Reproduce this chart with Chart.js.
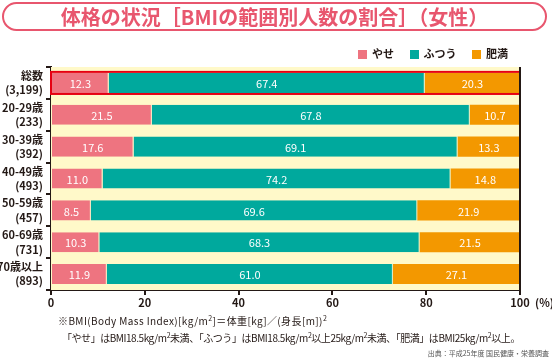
<!DOCTYPE html>
<html lang="ja">
<head>
<meta charset="utf-8">
<script src="https://cdn.jsdelivr.net/npm/chart.js@4"></script>
<style>
  body { margin: 0; background: #fff; }
  #wrap { position: relative; width: 552px; height: 360px; font-family: "Noto Sans CJK JP", "Noto Sans", sans-serif; color: #231815; }
  #chart { position: absolute; left: 0; top: 0; }
  .title {
    position: absolute; left: 2px; top: 2px; width: 545px; height: 29px;
    border: 2px solid #e8566e; border-radius: 16px; box-sizing: border-box;
    color: #e8566e; font-weight: bold; font-size: 20px; line-height: 26px; text-align: center;
  }
  .legend { position: absolute; top: 45px; left: 358px; font-size: 11px; font-weight: bold; white-space: nowrap; }
  .legend span.box { display: inline-block; width: 9px; height: 9px; vertical-align: -1px; margin-right: 5px; }
  .legend span.item { margin-right: 13px; }
  .note { position: absolute; font-size: 10px; white-space: nowrap; }
  .note sup { font-size: 7px; }
  .src { position: absolute; right: 3px; top: 348px; font-size: 7px; color: #555; }
  .pct { position: absolute; left: 535px; top: 294px; font-size: 11px; font-weight: bold; }
</style>
</head>
<body>
<div id="wrap">
  <canvas id="chart" width="552" height="360"></canvas>
  <div class="title">体格の状況［BMIの範囲別人数の割合］（女性）</div>
  <div class="legend">
    <span class="item"><span class="box" style="background:#ee7480"></span>やせ</span>
    <span class="item"><span class="box" style="background:#00a99d"></span>ふつう</span>
    <span><span class="box" style="background:#f39800"></span>肥満</span>
  </div>
  <div class="pct">(%)</div>
  <div class="note" style="left:58px; top:313px; letter-spacing:0.4px;">※BMI(Body Mass Index)[kg/m<sup>2</sup>]＝体重[kg]／(身長[m])<sup>2</sup></div>
  <div class="note" style="left:62px; top:330px; letter-spacing:-0.45px;">「やせ」はBMI18.5kg/m<sup>2</sup>未満、「ふつう」はBMI18.5kg/m<sup>2</sup>以上25kg/m<sup>2</sup>未満、「肥満」はBMI25kg/m<sup>2</sup>以上。</div>
  <div class="src">出典：平成25年度 国民健康・栄養調査</div>
</div>
<script>
const categories = [
  ["総数", "(3,199)"],
  ["20-29歳", "(233)"],
  ["30-39歳", "(392)"],
  ["40-49歳", "(493)"],
  ["50-59歳", "(457)"],
  ["60-69歳", "(731)"],
  ["70歳以上", "(893)"],
];
const yase = [12.3, 21.5, 17.6, 11.0, 8.5, 10.3, 11.9];
const futsuu = [67.4, 67.8, 69.1, 74.2, 69.6, 68.3, 61.0];
const himan = [20.3, 10.7, 13.3, 14.8, 21.9, 21.5, 27.1];
const xTicks = [0, 20, 40, 60, 80, 100];

const dark = "#231815";

// background + value labels + red frame round the total row + right border
const framePlugin = {
  id: "frame",
  beforeDatasetsDraw(chart) {
    const { ctx, chartArea: a } = chart;
    ctx.save();
    ctx.fillStyle = "#fff9c9";
    ctx.fillRect(a.left, a.top, a.right - a.left, a.bottom - a.top);
    ctx.restore();
  },
  afterDatasetsDraw(chart) {
    const { ctx, chartArea: a } = chart;
    ctx.save();
    ctx.fillStyle = "#fff";
    ctx.font = "11px 'Noto Sans CJK JP', sans-serif";
    ctx.textAlign = "center";
    ctx.textBaseline = "middle";
    chart.data.datasets.forEach((ds, i) => {
      chart.getDatasetMeta(i).data.forEach((el, j) => {
        const p = el.getCenterPoint();
        ctx.fillText(ds.data[j].toFixed(1), p.x, p.y + 1);
      });
    });
    const bar = chart.getDatasetMeta(0).data[0];
    const h = bar.height;
    ctx.strokeStyle = "#e60012";
    ctx.lineWidth = 2;
    ctx.strokeRect(a.left, bar.y - h / 2 - 1, a.right - a.left, h + 2);
    ctx.strokeStyle = dark;
    ctx.beginPath();
    ctx.moveTo(a.right, a.top);
    ctx.lineTo(a.right, a.bottom);
    ctx.stroke();
    ctx.restore();
  },
};

const segBorder = { top: 0, bottom: 0, left: 0, right: 1 };

new Chart(document.getElementById("chart"), {
  type: "bar",
  data: {
    labels: categories,
    datasets: [
      { label: "やせ", data: yase, backgroundColor: "#ee7480", borderColor: "#f3dcc0", borderWidth: segBorder, borderSkipped: false },
      { label: "ふつう", data: futsuu, backgroundColor: "#00a99d", borderColor: "#cfe9c8", borderWidth: segBorder, borderSkipped: false },
      { label: "肥満", data: himan, backgroundColor: "#f39800", borderWidth: 0 },
    ],
  },
  options: {
    indexAxis: "y",
    responsive: false,
    animation: false,
    events: [],
    layout: { padding: { left: 0, top: 67, right: 32, bottom: 50 } },
    datasets: { bar: { barPercentage: 0.63, categoryPercentage: 1 } },
    plugins: { legend: { display: false }, tooltip: { enabled: false } },
    scales: {
      x: {
        stacked: true,
        min: 0,
        max: 100,
        afterBuildTicks: (scale) => { scale.ticks = xTicks.map((v) => ({ value: v })); },
        afterFit: (scale) => { scale.height = 20; },
        border: { display: true, color: dark, width: 2 },
        grid: { drawOnChartArea: false, color: dark, tickLength: 5, lineWidth: 2 },
        ticks: { color: dark, padding: 1, font: { size: 11, weight: "bold", family: "'Noto Sans CJK JP', sans-serif" } },
      },
      y: {
        stacked: true,
        afterFit: (scale) => { scale.width = 51; },
        border: { display: true, color: dark, width: 2 },
        grid: { drawOnChartArea: false, color: dark, tickLength: 5, lineWidth: 2, offset: true },
        ticks: { color: dark, padding: 3, font: { size: 11, weight: "bold", family: "'Noto Sans CJK JP', sans-serif", lineHeight: 1.3 } },
      },
    },
  },
  plugins: [framePlugin],
});
</script>
</body>
</html>
